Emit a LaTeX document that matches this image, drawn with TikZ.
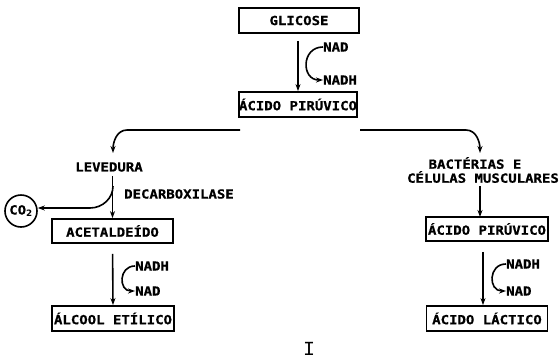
\documentclass[tikz,border=0pt]{standalone}
\usepackage{fontspec}
\setmainfont{DejaVu Sans}
\newfontfamily\lettering{DejaVu Sans Mono}[FakeStretch=1.12, BoldFeatures={FakeBold=0.8}]
\newfontfamily\romnum{Liberation Mono}
\usetikzlibrary{arrows.meta}
\tikzset{
  box/.style={draw, line width=1.8pt, inner sep=0pt, minimum height=25pt, font=\fontsize{12.5}{13}\lettering\bfseries},
  lbl/.style={inner sep=0pt, font=\fontsize{12.5}{13}\lettering\bfseries},
  conn/.style={line width=1.6pt, -{Stealth[length=7pt,width=5pt]}},
}
\begin{document}
\begin{tikzpicture}[x=1pt,y=-1pt]
\useasboundingbox (0,0) rectangle (560,362);
% top
\node[box, minimum width=120pt] (glic) at (299,20.5) {GLICOSE};
\node[box, minimum width=118pt] (ap1) at (298,104.5) {ÁCIDO PIRÚVICO};
\node[lbl, anchor=west] (nad1) at (323,47) {NAD};
\node[lbl, anchor=west] (nadh1) at (323,80) {NADH};
\draw[conn, shorten <=7pt] (glic.south -| ap1.north) -- (ap1.north);
\draw[conn] (nad1.west) to[out=180,in=180,looseness=1.7] (nadh1.west);
% split
\coordinate (sl) at (240,130);
\coordinate (sr) at (360,130);
\coordinate (tl) at (113,153);
\coordinate (tr) at (480,153);
\draw[conn] (sl) -- (127,130) to[out=180,in=90] (tl);
\draw[conn] (sr) -- (466,130) to[out=0,in=90] (tr);
% left branch
\node[lbl] (lev) at (109,167) {LEVEDURA};
\node[lbl, anchor=west] (dec) at (124,194) {DECARBOXILASE};
\node[box, minimum width=121pt, minimum height=24pt] (acet) at (112.5,231) {ACETALDEÍDO};
\node[draw, circle, line width=1.6pt, minimum size=32pt, inner sep=0pt, font=\fontsize{12.5}{13}\lettering\bfseries] (co2) at (21,211) {CO$_{\mathbf 2}$};
\draw[conn, shorten <=4pt] (lev.south -| acet.north) -- (acet.north);
\coordinate (bp) at (113,186);
\draw[conn] (bp) to[out=-90,in=0] (90,208) -- (co2.east |- 0,208);
\node[box, minimum width=122pt] (alc) at (113,318.5) {ÁLCOOL ETÍLICO};
\node[lbl, anchor=west] (nadh2) at (135,266) {NADH};
\node[lbl, anchor=west] (nad2) at (135,291) {NAD};
\draw[conn, shorten <=10pt] (acet.south) -- (alc.north);
\draw[conn] (nadh2.west) to[out=180,in=180,looseness=1.7] (nad2.west);
% right branch
\node[lbl] (bac) at (475,163) {BACTÉRIAS E};
\node[lbl] (cel) at (483,177) {CÉLULAS MUSCULARES};
\node[box, minimum width=122pt, minimum height=24pt] (apr) at (487,229) {ÁCIDO PIRÚVICO};
\draw[conn, shorten <=3pt] (cel.south -| 480,0) -- (480,217);
\node[box, minimum width=121pt] (lac) at (487,318.5) {ÁCIDO LÁCTICO};
\node[lbl, anchor=west] (nadh3) at (506,264) {NADH};
\node[lbl, anchor=west] (nad3) at (506,291) {NAD};
\draw[conn, shorten <=10pt] (apr.south -| 483,0) -- (lac.north -| 483,0);
\draw[conn] (nadh3.west) to[out=180,in=180,looseness=1.7] (nad3.west);
% label
\node[font=\fontsize{20}{21}\romnum] (num) at (309,349) {I};
\end{tikzpicture}
\end{document}
